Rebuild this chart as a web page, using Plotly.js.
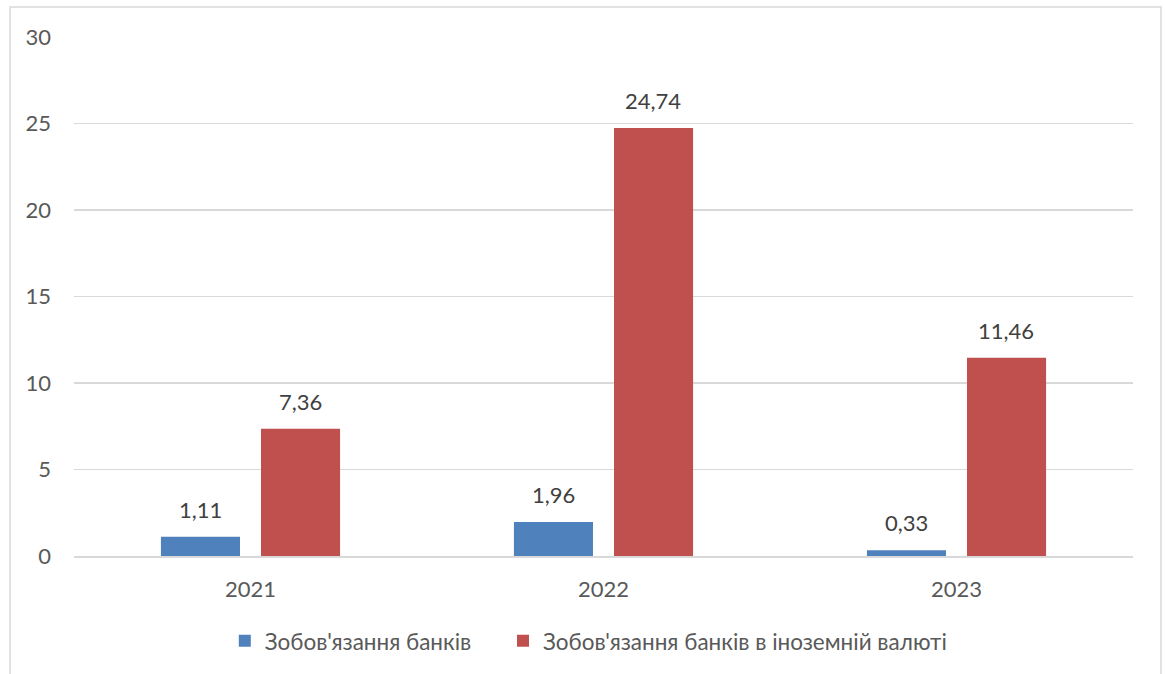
<!DOCTYPE html>
<html>
<head>
<meta charset="utf-8">
<script src="https://cdn.plot.ly/plotly-3.0.1.min.js"></script>
<style>
  html, body { margin: 0; padding: 0; background: #ffffff; }
  #chart { width: 1165px; height: 674px; }
</style>
</head>
<body>
<div id="chart"></div>
<script>
// Years on the category axis
const years = ['2021', '2022', '2023'];

// Series names
const seriesNames = [
  "Зобов'язання банків",
  "Зобов'язання банків в іноземній валюті"
];

// Series values
const banksLiabilities = [1.11, 1.96, 0.33];
const banksFxLiabilities = [7.36, 24.74, 11.46];

// Value axis ticks
const yTicks = [0, 5, 10, 15, 20, 25, 30];

const colors = ['#4f81bd', '#c0504d'];
const fontFamily = 'Lato, "Open Sans", "Noto Sans", sans-serif';

function fmt(v) {
  return v.toFixed(2).replace('.', ',');
}

const series = [banksLiabilities, banksFxLiabilities];
const legendIds = ['legend', 'legend2'];

const traces = series.map((vals, i) => ({
  type: 'bar',
  name: seriesNames[i],
  x: years,
  y: vals,
  legend: legendIds[i],
  marker: { color: colors[i], line: { width: 0 } },
  hoverinfo: 'skip'
}));

// Value labels above each bar, positioned on the bar's own category / value
const barOffset = [-0.1416, 0.1416];
const annotations = [];
series.forEach((vals, i) => {
  vals.forEach((v, j) => {
    annotations.push({
      xref: 'x', yref: 'y',
      x: j + barOffset[i], y: v,
      text: fmt(v),
      showarrow: false,
      xanchor: 'center', yanchor: 'bottom',
      yshift: 12,
      font: { family: fontFamily, size: 22, color: '#404040' }
    });
  });
});

function legendBox(x) {
  return {
    orientation: 'h',
    x: x, xanchor: 'left',
    y: -0.162, yanchor: 'middle',
    font: { family: fontFamily, size: 22.5, color: '#595959' },
    itemwidth: 30,
    bgcolor: 'rgba(0,0,0,0)'
  };
}

const layout = {
  width: 1165,
  height: 674,
  margin: { l: 74, r: 32, t: 37, b: 117 },
  paper_bgcolor: '#ffffff',
  plot_bgcolor: '#ffffff',
  barmode: 'group',
  bargap: 0.433,
  bargroupgap: 0.21,
  showlegend: true,
  legend: legendBox(0.1424),
  legend2: legendBox(0.4051),
  xaxis: {
    type: 'category',
    showgrid: false,
    showline: true,
    linecolor: '#d9d9d9',
    linewidth: 1.5,
    ticks: '',
    ticklabelstandoff: 13,
    tickfont: { family: fontFamily, size: 22, color: '#595959' },
    zeroline: false
  },
  yaxis: {
    range: [0, 30],
    tickvals: yTicks,
    ticktext: yTicks.map(String),
    showgrid: true,
    gridcolor: '#d9d9d9',
    gridwidth: 1.5,
    zeroline: false,
    showline: false,
    ticks: '',
    ticklabelstandoff: 22,
    tickfont: { family: fontFamily, size: 22, color: '#595959' }
  },
  annotations: annotations,
  shapes: [{
    type: 'rect',
    xref: 'paper', yref: 'paper',
    x0: -0.0604, x1: 1.0264,
    y0: -0.3, y1: 1.0577,
    line: { color: '#d9d9d9', width: 1.5 },
    fillcolor: 'rgba(0,0,0,0)',
    layer: 'below'
  }]
};

Plotly.newPlot('chart', traces, layout, { displayModeBar: false, staticPlot: true });
</script>
</body>
</html>
